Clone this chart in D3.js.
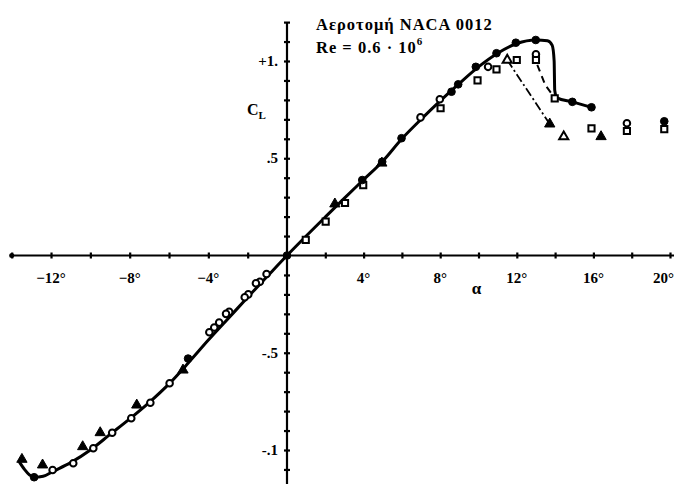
<!DOCTYPE html>
<html><head><meta charset="utf-8">
<script src="https://cdn.jsdelivr.net/npm/d3@7"></script>
<style>
html,body{margin:0;padding:0;background:#fff;}
svg{display:block;}
text{font-family:"Liberation Serif","DejaVu Serif",serif;font-weight:bold;fill:#000;}
</style></head>
<body>
<svg id="c" width="674" height="484"></svg>
<script>
// ---- data ----
const titleLine1 = "Αεροτομή NACA 0012";
const titleLine2 = "Re = 0.6 · 10";
const titleSup = "6";
const xTickLabels = [-12, -8, -4, 4, 8, 12, 16, 20];
const yTickLabels = [1.0, 0.5, -0.5, -1.0];
const yTickText = ["+1.", ".5", "-.5", "-.1"];

// main faired curve (solid)
const curveAlpha = [-13.62,-13.35,-13.1,-12.85,-12.4,-11.9,-11,-10,-9,-8,-7,-6,-5,-4,-3,-2,-1,0,1,2,3,4,5,6,7,8,9,10,11,12,13,13.6,13.85,13.95,13.98,14.1,14.9,15.9];
const curveCL    = [-1.06,-1.10,-1.128,-1.14,-1.135,-1.11,-1.065,-1.0,-0.92,-0.84,-0.755,-0.66,-0.55,-0.435,-0.325,-0.215,-0.107,0,0.1,0.198,0.295,0.39,0.485,0.6,0.7,0.795,0.885,0.97,1.04,1.09,1.108,1.104,1.08,1.0,0.85,0.81,0.79,0.762];

// dashed branch
const dashAlpha = [13.07, 13.49, 14.0];
const dashCL    = [0.98, 0.876, 0.808];
// dash-dot branch
const dashDotAlpha = [11.5, 13.72];
const dashDotCL    = [1.005, 0.676];

// markers
const filledCircleAlpha = [0, 3.93, 4.97, 5.98, 8.59, 8.94, 9.86, 10.94, 11.95, 12.99, 14.9, 15.9, 19.7, -5.03, -12.86];
const filledCircleCL    = [0, 0.388, 0.482, 0.603, 0.842, 0.88, 0.97, 1.04, 1.094, 1.108, 0.79, 0.762, 0.69, -0.53, -1.14];

const openCircleAlpha = [-1.04,-1.38,-1.58,-1.97,-2.15,-2.94,-3.1,-3.45,-3.7,-3.95,-5.97,-6.95,-7.92,-8.89,-9.85,-10.87,-11.92, 6.97, 7.98, 10.5, 13.0, 17.75];
const openCircleCL    = [-0.095,-0.135,-0.143,-0.2,-0.215,-0.29,-0.3,-0.345,-0.37,-0.395,-0.657,-0.757,-0.837,-0.911,-0.991,-1.068,-1.103, 0.71, 0.803, 0.97, 1.035, 0.68];

const openSquareAlpha = [0.98, 2.02, 3.03, 3.98, 8.02, 9.95, 10.94, 12.0, 13.0, 13.98, 15.9, 17.75, 19.7];
const openSquareCL    = [0.08, 0.174, 0.27, 0.362, 0.757, 0.90, 0.957, 1.005, 1.005, 0.808, 0.654, 0.64, 0.65];

const filledTriAlpha = [2.5, 4.95, 13.72, 16.4, -5.29, -7.64, -9.5, -10.39, -12.43, -13.48];
const filledTriCL    = [0.265, 0.475, 0.676, 0.611, -0.589, -0.769, -0.911, -0.983, -1.077, -1.048];

const openTriAlpha = [11.5, 14.45];
const openTriCL    = [1.005, 0.611];

// ---- chart ----
const svg = d3.select("#c");
const x = d3.scaleLinear().domain([-14, 0, 20]).range([11.7, 287, 670]);
const y = d3.scaleLinear().domain([-1.2, 1.2]).range([488.9, 22.1]);

const g = svg.append("g");

// x axis
const xAxis = d3.axisBottom(x).tickValues(d3.range(-14, 21, 2).filter(v => v !== 0)).tickFormat("").tickSize(3).tickSizeOuter(0);
const gx = g.append("g").attr("transform", `translate(0,${y(0)})`).call(xAxis);
gx.select(".domain").attr("stroke", "#000").attr("stroke-width", 2.2).attr("d", `M${x(-14)},0H674`);
gx.selectAll(".tick line").attr("y1", -3).attr("y2", 3).attr("stroke-width", 2.2);
gx.append("circle").attr("cx", x(-14)).attr("cy", 0).attr("r", 2.5).attr("fill", "#000");

// y axis
const yAxis = d3.axisLeft(y).tickValues(d3.range(-12, 13, 1).filter(v => v !== 0).map(v => v / 10)).tickFormat("").tickSize(3).tickSizeOuter(0);
const gy = g.append("g").attr("transform", `translate(${x(0)},0)`).call(yAxis);
gy.select(".domain").attr("stroke", "#000").attr("stroke-width", 2.2).attr("d", `M0,${y(1.2)}V484`);
gy.selectAll(".tick line").attr("x1", -3).attr("x2", 3).attr("stroke-width", 2.2);

// tick labels
g.selectAll(".xl").data(xTickLabels).join("text")
  .attr("x", d => d === 20 ? 674 : x(d)).attr("y", y(0) + 27)
  .attr("text-anchor", d => d === 20 ? "end" : "middle").attr("font-size", 15)
  .text(d => (d < 0 ? "\u2212" + Math.abs(d) : d) + "°");
g.selectAll(".yl").data(yTickLabels).join("text")
  .attr("x", x(0) - 9).attr("y", d => y(d) + 5)
  .attr("text-anchor", "end").attr("font-size", 15)
  .text((d, i) => yTickText[i]);

// axis titles
g.append("text").attr("x", x(9.9)).attr("y", y(-0.2)).attr("font-size", 17).attr("text-anchor", "middle").text("α");
const cl = g.append("text").attr("x", 247).attr("y", y(0.72)).attr("font-size", 16);
cl.append("tspan").text("C");
cl.append("tspan").attr("font-size", 11).attr("dy", 4).text("L");

// title
g.append("text").attr("x", 316).attr("y", 30).attr("font-size", 16.5).attr("letter-spacing", 1).text(titleLine1);
const t2 = g.append("text").attr("x", 316).attr("y", 53).attr("font-size", 16.5).attr("letter-spacing", 1);
t2.append("tspan").text(titleLine2);
t2.append("tspan").attr("font-size", 11).attr("dy", -8).text(titleSup);

// lines
const line = d3.line().x(d => x(d[0])).y(d => y(d[1]));
g.append("path").datum(curveAlpha.map((a, i) => [a, curveCL[i]]))
  .attr("d", line.curve(d3.curveMonotoneX)).attr("fill", "none").attr("stroke", "#000").attr("stroke-width", 3).attr("stroke-linejoin", "round");
g.append("path").datum(dashAlpha.map((a, i) => [a, dashCL[i]]))
  .attr("d", d3.line().x(d => x(d[0])).y(d => y(d[1]))).attr("fill", "none").attr("stroke", "#000").attr("stroke-width", 2).attr("stroke-dasharray", "7,5");
g.append("path").datum(dashDotAlpha.map((a, i) => [a, dashDotCL[i]]))
  .attr("d", d3.line().x(d => x(d[0])).y(d => y(d[1]))).attr("fill", "none").attr("stroke", "#000").attr("stroke-width", 1.8).attr("stroke-dasharray", "9,3,2,3");

// markers
function markers(al, cls, type, size, filled) {
  g.append("g").selectAll("path").data(al.map((a, i) => [a, cls[i]])).join("path")
    .attr("transform", d => `translate(${x(d[0])},${y(d[1])})`)
    .attr("d", d3.symbol().type(type).size(size))
    .attr("fill", filled ? "#000" : "#fff")
    .attr("stroke", "#000").attr("stroke-width", filled ? 1 : 2);
}
markers(openCircleAlpha, openCircleCL, d3.symbolCircle, 34, false);
markers(openSquareAlpha, openSquareCL, d3.symbolSquare, 38, false);
markers(openTriAlpha, openTriCL, d3.symbolTriangle, 36, false);
markers(filledTriAlpha, filledTriCL, d3.symbolTriangle, 46, true);
markers(filledCircleAlpha, filledCircleCL, d3.symbolCircle, 46, true);
</script>
</body></html>
